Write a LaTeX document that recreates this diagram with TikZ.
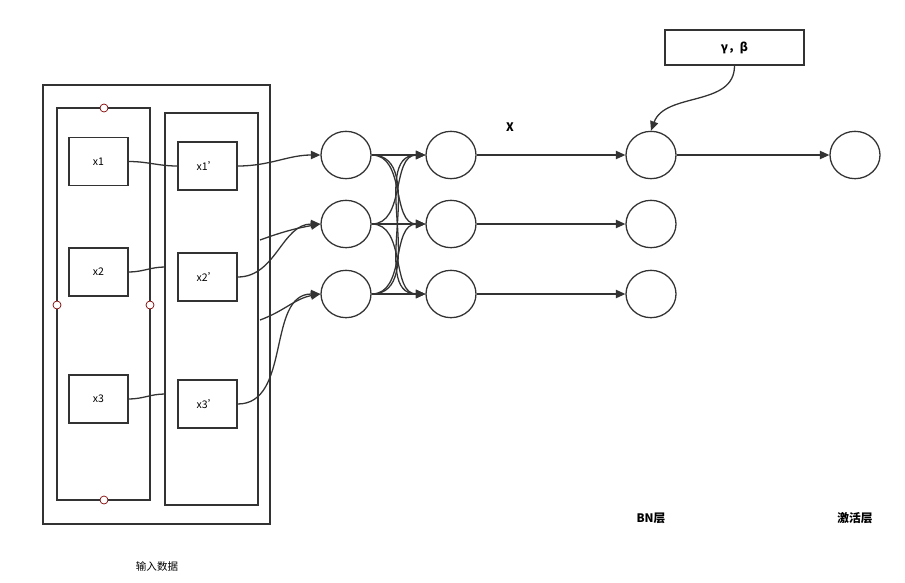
\documentclass[tikz,border=0pt]{standalone}
\usepackage{fontspec}
\setmainfont{Noto Sans CJK SC}
\usetikzlibrary{arrows.meta,shapes.geometric}
\begin{document}
\begin{tikzpicture}[x=0.03cm,y=-0.03cm,
  line width=1pt, draw=black!80,
  neuron/.style={draw=black!80,line width=1.1pt,ellipse,minimum width=1.5cm,minimum height=1.42cm,inner sep=0pt},
  inbox/.style={draw=black!80,line width=1.1pt,minimum width=1.77cm,minimum height=1.44cm,font=\small},
  port/.style={draw=red!50!black,fill=white,line width=0.6pt,circle,inner sep=0pt,minimum size=0.24cm},
  link/.style={draw=black!80,line width=1.1pt},
  arr/.style={link,-{Triangle[length=8pt,width=7pt]}}]
  \useasboundingbox (0,0) rectangle (905,582);
  % Eingabe
  \draw[line width=1.3pt] (43,85) rectangle (270,524);
  \draw[line width=1.3pt] (57,108) rectangle (150,500);
  \draw[line width=1.3pt] (165,113) rectangle (258,505);
  \foreach \p in {(104,108),(104,500),(57,305),(150,305)}
    \node[port] at \p {};
  \node[inbox] (x1) at (98.5,161.5) {x1};
  \node[inbox] (x2) at (98.5,272) {x2};
  \node[inbox] (x3) at (98.5,399) {x3};
  \node[inbox] (y1) at (207.5,166) {x1'};
  \node[inbox] (y2) at (207.5,277) {x2'};
  \node[inbox] (y3) at (207.5,404) {x3'};
  \coordinate (e2) at (165,267);
  \coordinate (e3) at (165,394);
  \coordinate (f2) at (260,240);
  \coordinate (f3) at (260,320);
  % Neuronen
  \foreach \i/\y in {1/155,2/224,3/294} {
    \node[neuron] (a\i) at (346,\y) {};
    \node[neuron] (b\i) at (451,\y) {};
    \node[neuron] (n\i) at (651,\y) {};
  }
  \node[neuron] (act) at (855,155) {};
  \node[draw=black!80,line width=1.3pt,minimum width=4.17cm,minimum height=1.05cm,font=\bfseries] (gb) at (734.5,47.5) {γ，β};
  % Verbindungen
  \draw[link] (x1.east) to[out=0,in=180] (y1.west);
  \draw[link] (x2.east) to[out=0,in=180] (e2);
  \draw[link] (x3.east) to[out=0,in=180] (e3);
  \draw[arr] (y1.east) to[out=0,in=180] (a1.west);
  \draw[arr] (y2.east) to[out=0,in=180] (a2.west);
  \draw[arr] (y3.east) to[out=0,in=180] (a3.west);
  \draw[arr] (f2) to[out=20,in=190] (a2.west);
  \draw[arr] (f3) to[out=20,in=190] (a3.west);
  \foreach \i in {1,2,3}
    \foreach \j in {1,2,3}
      \draw[arr] (a\i.east) to[out=0,in=180] (b\j.west);
  \foreach \i in {1,2,3}
    \draw[arr] (b\i.east) to[out=0,in=180] (n\i.west);
  \draw[arr] (n1.east) to[out=0,in=180] (act.west);
  \draw[arr] (gb.south) to[out=-90,in=70] (n1.north);
  % Beschriftung
  \node[font=\bfseries] (xl) at (510,127) {X};
  \node[font=\bfseries] (bnl) at (651,518) {BN层};
  \node[font=\bfseries] (acl) at (855,518) {激活层};
  \node[font=\small] (inl) at (157,566) {输入数据};
\end{tikzpicture}
\end{document}
